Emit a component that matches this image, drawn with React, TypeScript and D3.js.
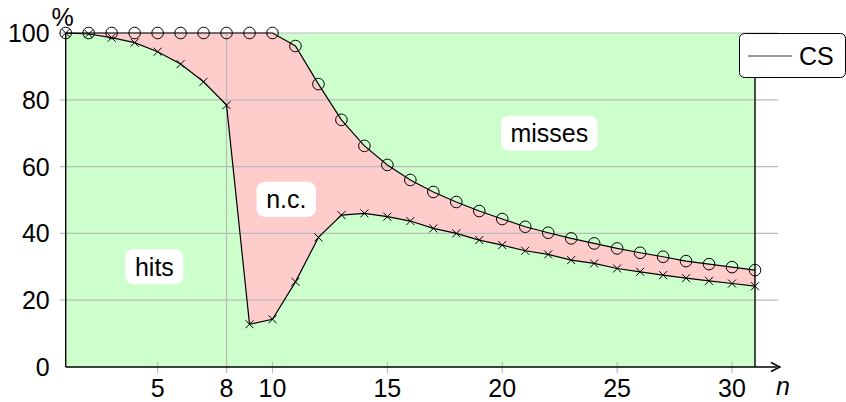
import React, { useMemo } from 'react'
import * as d3 from 'd3'

const width = 846
const height = 402
const margin = { left: 65.7, right: 91, top: 33, bottom: 35 }

// n = 1..31
const nValues = d3.range(1, 32)
// upper boundary (circles): everything above is "misses"
const missBound = [100, 100, 100, 100, 100, 100, 100, 100, 100, 100, 96.1, 84.7, 74, 66.2, 60.5, 56, 52.4, 49.4, 46.7, 44.3, 42, 40.2, 38.5, 37, 35.5, 34.2, 33, 31.7, 30.8, 29.9, 29]
// lower boundary (crosses): everything below is "hits"
const hitBound = [100, 99.7, 98.6, 97.1, 94.4, 90.7, 85.4, 78.4, 12.8, 14.3, 25.5, 38.8, 45.5, 46, 45, 43.7, 41.5, 40, 38, 36.5, 34.8, 33.7, 32, 31, 29.5, 28.5, 27.5, 26.6, 25.8, 25, 24.2]

const xTicks = [5, 8, 10, 15, 20, 25, 30]
const yTicks = [0, 20, 40, 60, 80, 100]
const xGrid = [8]

const regionLabels = [
  { text: 'hits', n: 4.86, v: 30 },
  { text: 'n.c.', n: 10.6, v: 50.2 },
  { text: 'misses', n: 22.05, v: 70 },
]

const font = '"Liberation Sans", Arial, Helvetica, sans-serif'
const fontSize = 25

// rough Helvetica advance widths (em) for sizing the label boxes
const charW: Record<string, number> = { h: .556, i: .222, t: .278, s: .5, n: .556, '.': .278, c: .5, m: .833, e: .556 }
const textWidth = (s: string) => s.split('').reduce((a, ch) => a + (charW[ch] ?? .55), 0) * fontSize

function App() {
  const x = useMemo(() => d3.scaleLinear().domain([1, 31]).range([margin.left, width - margin.right]), [])
  const y = useMemo(() => d3.scaleLinear().domain([0, 100]).range([height - margin.bottom, margin.top]), [])

  const areaFn = d3.area<number>()
    .x(i => x(nValues[i]))
    .y0(i => y(hitBound[i]))
    .y1(i => y(missBound[i]))
  const lineMiss = d3.line<number>().x(i => x(nValues[i])).y(i => y(missBound[i]))
  const lineHit = d3.line<number>().x(i => x(nValues[i])).y(i => y(hitBound[i]))
  const idx = nValues.map((_, i) => i)

  const x0 = x(1), x1 = x(31), y0 = y(0), y1 = y(100)
  const gridEnd = x1 + 23

  return (
    <svg width={width} height={height} style={{ position: 'absolute', left: 0, top: 0 }} fontFamily={font}>
      <rect x={x0} y={y1} width={x1 - x0} height={y0 - y1} fill="#ccffcc" />
      <path d={areaFn(idx)!} fill="#ffcccc" />

      {/* grid */}
      {yTicks.filter(t => t > 0).map(t => (
        <line key={t} x1={x0 - 6} x2={gridEnd} y1={y(t)} y2={y(t)} stroke="#bbb" strokeWidth={1.2} />
      ))}
      {xGrid.map(t => (
        <line key={t} x1={x(t)} x2={x(t)} y1={y1} y2={y0 + 6} stroke="#bbb" strokeWidth={1.2} />
      ))}
      {xTicks.map(t => (
        <line key={t} x1={x(t)} x2={x(t)} y1={y0 - 5} y2={y0 + 6} stroke="#bbb" strokeWidth={1.2} />
      ))}

      {/* axes */}
      <line x1={x0} x2={x0} y1={y1} y2={y0} stroke="#000" strokeWidth={1.4} />
      <line x1={x1} x2={x1} y1={y1} y2={y0} stroke="#000" strokeWidth={1.4} />
      <line x1={x0} x2={x1 + 22} y1={y0} y2={y0} stroke="#000" strokeWidth={1.4} />
      <path d={`M${x1 + 16},${y0 - 4.5} L${x1 + 25},${y0} L${x1 + 16},${y0 + 4.5}`} fill="none" stroke="#000" strokeWidth={1.4} />

      {/* curves */}
      <path d={lineMiss(idx)!} fill="none" stroke="#000" strokeWidth={1.2} />
      <path d={lineHit(idx)!} fill="none" stroke="#000" strokeWidth={1.2} />
      {idx.map(i => (
        <circle key={'c' + i} cx={x(nValues[i])} cy={y(missBound[i])} r={5.8} fill="none" stroke="#000" strokeWidth={1} />
      ))}
      {idx.map(i => {
        const cx = x(nValues[i]), cy = y(hitBound[i]), s = 4
        return (
          <path key={'x' + i} d={`M${cx - s},${cy - s}L${cx + s},${cy + s}M${cx - s},${cy + s}L${cx + s},${cy - s}`} stroke="#000" strokeWidth={1} />
        )
      })}

      {/* tick labels */}
      {yTicks.map(t => (
        <text key={t} x={x0 - 16} y={y(t)} dy="0.36em" textAnchor="end" fontSize={fontSize}>{t}</text>
      ))}
      {xTicks.map(t => (
        <text key={t} x={x(t)} y={y0 + 30} textAnchor="middle" fontSize={fontSize}>{t}</text>
      ))}
      <text x={x0 - 3} y={y1 - 7} textAnchor="middle" fontSize={fontSize}>%</text>
      <text x={x1 + 28} y={y0 + 28} textAnchor="middle" fontSize={fontSize} fontStyle="italic">n</text>

      {/* region labels */}
      {regionLabels.map(l => {
        const w = textWidth(l.text) + 19
        const cx = x(l.n), cy = y(l.v)
        return (
          <g key={l.text}>
            <rect x={cx - w / 2} y={cy - 17.5} width={w} height={35} rx={8} fill="#fff" />
            <text x={cx} y={cy} dy="0.36em" textAnchor="middle" fontSize={fontSize}>{l.text}</text>
          </g>
        )
      })}

      {/* legend */}
      <rect x={739.5} y={33.5} width={106} height={44} rx={5} fill="#fff" stroke="#000" strokeWidth={1} />
      <line x1={748} x2={792} y1={56} y2={56} stroke="#333" strokeWidth={1} />
      <text x={799} y={56} dy="0.36em" fontSize={fontSize}>CS</text>
    </svg>
  )
}

export default App
